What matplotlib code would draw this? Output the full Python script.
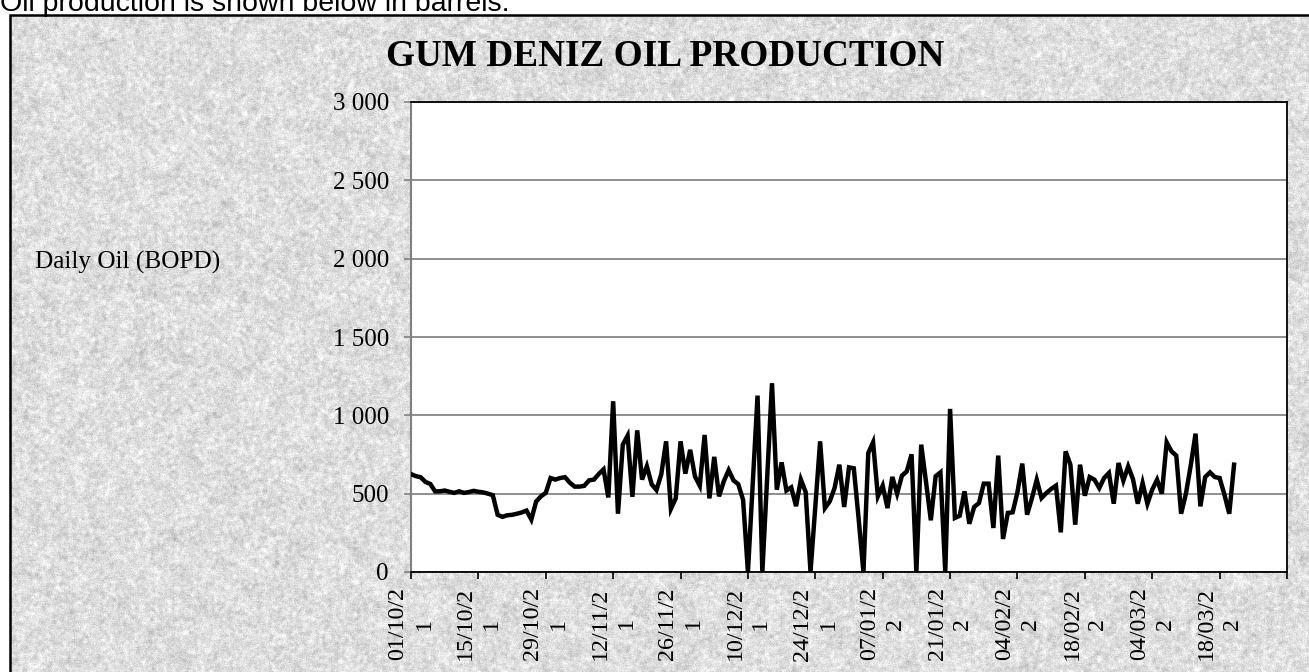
import numpy as np
import pandas as pd
import matplotlib
matplotlib.use("Agg")
import matplotlib.pyplot as plt
from matplotlib.patches import Rectangle

# daily oil production, one value per day starting 01/10/2021 (BOPD)
start_date = "2021-10-01"
oil_bopd = [
    625, 612, 605, 575, 562, 515, 515, 520, 512, 505,
    515, 505, 510, 518, 512, 508, 500, 490, 365, 352,
    362, 365, 372, 380, 392, 335, 450, 483, 505, 600,
    590, 600, 605, 570, 545, 545, 550, 585, 590, 625,
    655, 476, 1090, 372, 813, 870, 480, 904, 590, 675,
    560, 523, 624, 834, 403, 470, 834, 628, 780, 610,
    550, 875, 470, 735, 483, 580, 650, 585, 560, 460,
    0, 560, 1126, 0, 600, 1205, 525, 700, 520, 540,
    420, 590, 510, 0, 420, 834, 408, 451, 536, 685,
    415, 668, 662, 340, 0, 759, 828, 483, 551, 408,
    607, 500, 615, 642, 751, 0, 813, 575, 330, 611,
    636, 0, 1041, 345, 359, 515, 308, 415, 440, 564,
    564, 281, 743, 211, 377, 381, 510, 692, 366, 470,
    589, 472, 504, 530, 551, 253, 770, 685, 302, 685,
    487, 606, 589, 536, 600, 632, 436, 696, 583, 674,
    593, 436, 568, 436, 526, 589, 500, 828, 770, 743,
    372, 500, 680, 883, 419, 606, 636, 606, 600, 494,
    372, 685,
]

tick_dates = ["2021-10-01", "2021-10-15", "2021-10-29", "2021-11-12", "2021-11-26",
              "2021-12-10", "2021-12-24", "2022-01-07", "2022-01-21", "2022-02-04",
              "2022-02-18", "2022-03-04", "2022-03-18", "2022-04-01"]
tick_labels = ["01/10/21", "15/10/21", "29/10/21", "12/11/21", "26/11/21",
               "10/12/21", "24/12/21", "07/01/22", "21/01/22", "04/02/22",
               "18/02/22", "04/03/22", "18/03/22", ""]
y_ticks = [0, 500, 1000, 1500, 2000, 2500, 3000]
y_labels = ["0", "500", "1 000", "1 500", "2 000", "2 500", "3 000"]

W, H = 1309, 672
fig = plt.figure(figsize=(W / 100, H / 100), dpi=100, facecolor="white")

# granite-like background inside the frame
def blur(a, k):
    c = np.cumsum(np.pad(a, ((k, k), (0, 0)), mode="wrap"), axis=0)
    a = (c[2 * k:] - c[:-2 * k]) / (2 * k)
    c = np.cumsum(np.pad(a, ((0, 0), (k, k)), mode="wrap"), axis=1)
    return (c[:, 2 * k:] - c[:, :-2 * k]) / (2 * k)

rng = np.random.default_rng(3)
th, tw = H - 16, W - 11
tex = 0.5 * blur(rng.normal(size=(th, tw)), 2) + 0.7 * blur(rng.normal(size=(th, tw)), 8) \
    + 0.1 * rng.normal(size=(th, tw))
tex = 0.87 + 0.045 * tex / tex.std()
fig.figimage(np.clip(tex, 0, 1), xo=11, yo=0, cmap="gray", vmin=0, vmax=1,
             origin="upper", zorder=0)

fig.patches.append(Rectangle((9.5 / W, -0.1), 2, 1.1 - 14.5 / H, transform=fig.transFigure,
                             fill=False, edgecolor="black", linewidth=1.8, zorder=1))

fig.text(0, 1 - 11 / H, "Oil production is shown below in barrels:", family="Liberation Sans",
         fontsize=20.5, va="baseline", ha="left")

serif = "Liberation Serif"
fig.text(665 / W, 1 - 57 / H, "GUM DENIZ OIL PRODUCTION", family=serif, fontsize=26.8,
         fontweight="bold", ha="center", va="center")
fig.text(35 / W, 1 - 262 / H, "Daily Oil (BOPD)", family=serif, fontsize=18.2,
         ha="left", va="center")

ax = fig.add_axes([411 / W, 1 - 572 / H, (1287 - 411) / W, (572 - 102) / H])
ax.set_zorder(3)
ax.set_facecolor("white")

dates = pd.date_range(start_date, periods=len(oil_bopd), freq="D")
ax.plot(dates, oil_bopd, color="black", linewidth=3.2, solid_joinstyle="miter", zorder=3)

ax.set_ylim(0, 3000)
ax.set_xlim(pd.Timestamp(tick_dates[0]), pd.Timestamp(tick_dates[-1]))
ax.set_yticks(y_ticks)
ax.set_yticklabels(y_labels, family=serif, fontsize=18)
ax.yaxis.grid(True, color="#868686", linewidth=1.3)
ax.set_axisbelow(True)

ax.set_xticks([pd.Timestamp(d) for d in tick_dates])
wrapped = [t[:7] + "\n" + t[7:] if t else "" for t in tick_labels]
ax.set_xticklabels(wrapped, family=serif, fontsize=17.3, rotation=90,
                   ha="center", va="top", multialignment="center", linespacing=1.3)

ax.tick_params(axis="y", length=5, width=1.2, color="#808080", pad=11)
ax.tick_params(axis="x", length=5, width=1.2, color="black", pad=6)
for s in ["top", "right", "bottom"]:
    ax.spines[s].set_color("black")
    ax.spines[s].set_linewidth(1.3)
ax.spines["left"].set_color("#808080")
ax.spines["left"].set_linewidth(1.5)

fig.savefig("out.png", dpi=100, facecolor="white")
